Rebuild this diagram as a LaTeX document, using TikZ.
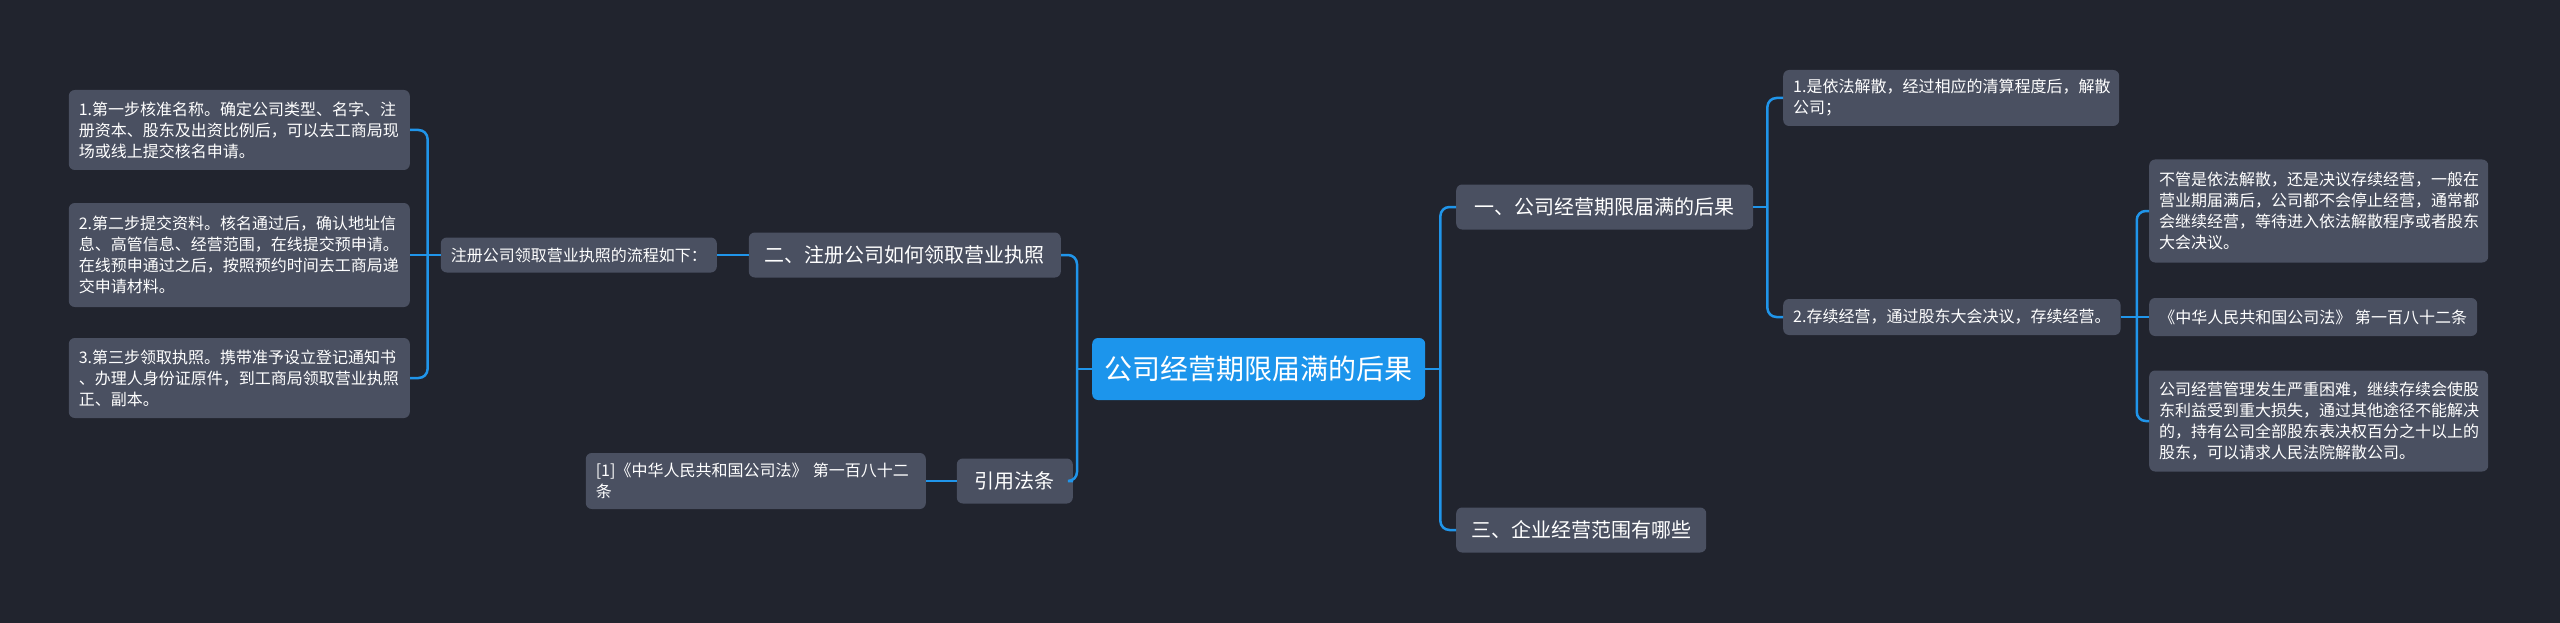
\documentclass[tikz,border=0pt]{standalone}
\usepackage{fontspec}
\newfontfamily\cjk{Noto Sans CJK SC}
\definecolor{bg}{HTML}{21242E}
\definecolor{nodefill}{HTML}{4A5061}
\definecolor{rootfill}{HTML}{1C95EC}
\definecolor{linec}{HTML}{2095EA}
\tikzset{
  base/.style={fill=nodefill, text=white, rounded corners=6pt, inner xsep=10pt, inner ysep=3pt},
  small/.style={base, font=\cjk\fontsize{16}{21}\selectfont, align=left},
  mid/.style={base, font=\cjk\fontsize{20}{26}\selectfont, minimum height=45pt},
  rootbox/.style={base, fill=rootfill, font=\cjk\fontsize{28}{34}\selectfont, inner xsep=8pt, minimum width=333pt, minimum height=62pt},
  conn/.style={draw=linec, line width=2.5pt, rounded corners=9pt},
}
\begin{document}
\begin{tikzpicture}[x=1pt, y=-1pt]
\useasboundingbox (0,0) rectangle (2560,623);
\fill[bg] (0,0) rectangle (2560,623);

% root
\node[rootbox, anchor=west] (root) at (1092,369) {公司经营期限届满的后果};

% right main branches
\node[mid, anchor=west, minimum width=297pt] (b1) at (1456,207) {一、公司经营期限届满的后果};
\node[mid, anchor=west, minimum width=250pt] (b3) at (1456,530) {三、企业经营范围有哪些};

% left main branches
\node[mid, anchor=east, minimum width=312pt] (b2) at (1061,255) {二、注册公司如何领取营业执照};
\node[mid, anchor=east, minimum width=116pt] (cite) at (1073,481) {引用法条};

% left details
\node[small, anchor=east, minimum width=276pt, minimum height=35pt] (flow) at (717,255) {注册公司领取营业执照的流程如下：};
\node[small, anchor=east, text width=320pt, minimum height=56pt] (ref) at (926,481) {[1]《中华人民共和国公司法》 第一百八十二\\条};
\node[small, anchor=east, text width=321pt, minimum height=80pt] (s1) at (410,130) {1.第一步核准名称。确定公司类型、名字、注\\册资本、股东及出资比例后，可以去工商局现\\场或线上提交核名申请。};
\node[small, anchor=east, text width=321pt, minimum height=104pt] (s2) at (410,255) {2.第二步提交资料。核名通过后，确认地址信\\息、高管信息、经营范围，在线提交预申请。\\在线预申通过之后，按照预约时间去工商局递\\交申请材料。};
\node[small, anchor=east, text width=321pt, minimum height=80pt] (s3) at (410,378) {3.第三步领取执照。携带准予设立登记通知书\\、办理人身份证原件，到工商局领取营业执照\\正、副本。};

% right details
\node[small, anchor=west, text width=316pt, minimum height=56pt] (r1) at (1783,98) {1.是依法解散，经过相应的清算程度后，解散\\公司；};
\node[small, anchor=west, minimum width=333pt, minimum height=36pt] (r2) at (1783,317) {2.存续经营，通过股东大会决议，存续经营。};
\node[small, anchor=west, text width=319pt, minimum height=103pt] (ra) at (2149,211) {不管是依法解散，还是决议存续经营，一般在\\营业期届满后，公司都不会停止经营，通常都\\会继续经营，等待进入依法解散程序或者股东\\大会决议。};
\node[small, anchor=west, minimum width=328pt, minimum height=38pt] (rb) at (2149,317) {《中华人民共和国公司法》 第一百八十二条};
\node[small, anchor=west, text width=319pt, minimum height=101pt] (rc) at (2149,421) {公司经营管理发生严重困难，继续存续会使股\\东利益受到重大损失，通过其他途径不能解决\\的，持有公司全部股东表决权百分之十以上的\\股东，可以请求人民法院解散公司。};

% connectors
\draw[conn] (root.east) -- ++(15,0) coordinate (rj);
\draw[conn] (rj) |- (b1.west);
\draw[conn] (rj) |- (b3.west);
\draw[conn] (root.west) -- ++(-15,0) coordinate (lj);
\draw[conn] (lj) |- (b2.east);
\draw[conn] (lj) |- (cite.east);
\draw[conn] (b2.west) -- (flow.east);
\draw[conn] (flow.west) -- ++(-13,0) coordinate (fj);
\draw[conn] (fj) |- (s1.east);
\draw[conn] (fj) -- (s2.east);
\draw[conn] (fj) |- (s3.east);
\draw[conn] (cite.west) -- (ref.east);
\draw[conn] (b1.east) -- ++(14,0) coordinate (oj);
\draw[conn] (oj) |- (r1.west);
\draw[conn] (oj) |- (r2.west);
\draw[conn] (r2.east) -- ++(16,0) coordinate (tj);
\draw[conn] (tj) |- (ra.west);
\draw[conn] (tj) -- (rb.west);
\draw[conn] (tj) |- (rc.west);
\end{tikzpicture}
\end{document}
